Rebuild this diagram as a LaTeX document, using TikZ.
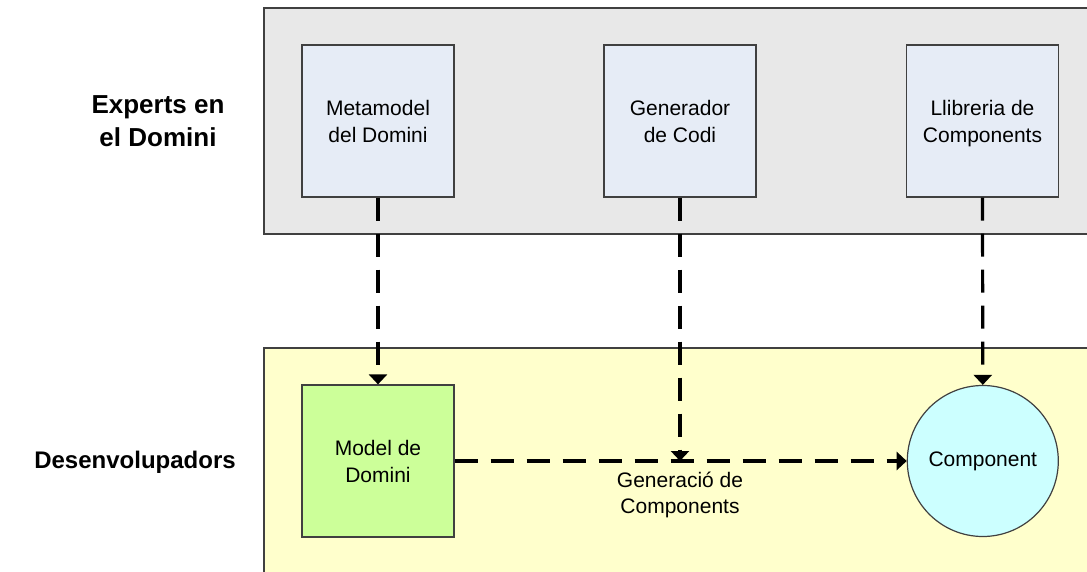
\documentclass[tikz,border=0pt]{standalone}
\usepackage{fontspec}
\setmainfont{Liberation Sans}
\usetikzlibrary{arrows.meta}

\definecolor{panelgray}{HTML}{E8E8E8}
\definecolor{panelyellow}{HTML}{FFFFCC}
\definecolor{boxblue}{HTML}{E6ECF6}
\definecolor{modelgreen}{HTML}{CCFF99}
\definecolor{compcyan}{HTML}{CCFFFF}
\definecolor{edgegray}{HTML}{404040}

% set a line without its descender depth so it centres like its neighbours
\newcommand{\nodepth}[1]{\raisebox{0pt}[\height][0pt]{#1}}

\tikzset{
  panel/.style={draw=edgegray, line width=0.6pt},
  artefact/.style={draw=edgegray, line width=0.6pt, minimum width=76pt, minimum height=76pt,
    inner sep=0pt, align=center, font=\fontsize{10.5}{13.5}\selectfont},
  rolelabel/.style={align=center, font=\fontsize{13}{16.5}\selectfont\bfseries},
  flow/.style={line width=1.6pt, dash pattern=on 11.5pt off 6.5pt,
    -{Triangle[width=9pt,length=5pt]}},
  caption/.style={align=center, font=\fontsize{10.5}{13}\selectfont}
}

\begin{document}
\begin{tikzpicture}[x=0.5pt, y=-0.5pt]
  \clip (0,0) rectangle (1087,572);
  \fill[white] (0,0) rectangle (1087,572);

  % swimlanes
  \filldraw[panel, fill=panelgray] (264,8) rectangle (1100,234);
  \filldraw[panel, fill=panelyellow] (264,348) rectangle (1100,590);

  % role labels
  \node[rolelabel] (experts) at (158,121) {Experts en\\el Domini};
  \node[rolelabel, font=\fontsize{12}{15}\selectfont\bfseries] (devs) at (135,462) {Desenvolupadors};

  % domain expert artefacts
  \node[artefact, fill=boxblue] (meta) at (378,121) {Metamodel\\del Domini};
  \node[artefact, fill=boxblue] (gen)  at (680,121) {Generador\\de Codi};
  \node[artefact, fill=boxblue] (lib)  at (982.5,121) {Llibreria de\\\nodepth{Components}};

  % developer artefacts
  \node[artefact, fill=modelgreen] (model) at (378,461) {Model de\\Domini};
  \node[draw=edgegray, line width=0.6pt, circle, fill=compcyan, minimum size=75.5pt,
        inner sep=0pt, font=\fontsize{10.5}{13}\selectfont] (comp) at (982.8,461) {Component};

  % where the generator feeds the generation flow
  \coordinate (join) at (model.east -| gen.south);

  % flows
  \draw[flow] (meta.south) -- (model.north);
  \draw[flow] (lib.south) -- (comp.north);
  \draw[flow] (model.east) -- (comp.west);
  \draw[flow] (gen.south) -- (join);

  \node[caption, anchor=north] (gencap) at ([yshift=-2pt]join) {Generació de\\Components};
\end{tikzpicture}
\end{document}
